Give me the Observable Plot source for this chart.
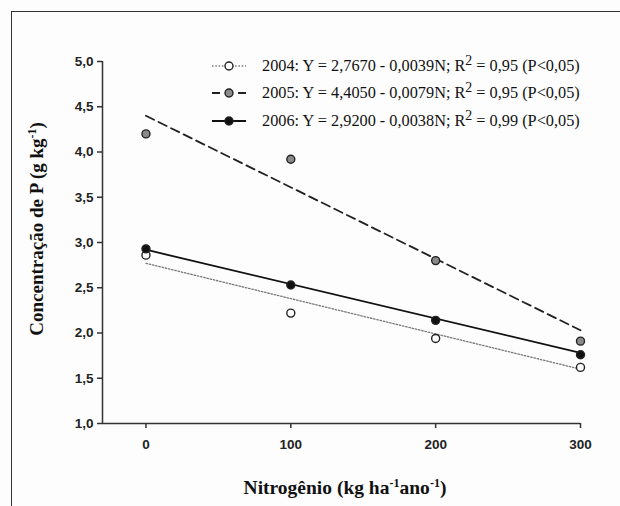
<!DOCTYPE html>
<html>
<head>
<meta charset="utf-8">
<script src="https://cdn.jsdelivr.net/npm/d3@7"></script>
<script src="https://cdn.jsdelivr.net/npm/@observablehq/plot@0.6"></script>
<style>
  html, body { margin: 0; padding: 0; background: #fff; }
  #wrap { position: relative; width: 620px; height: 506px; overflow: hidden; background: #fdfdfd; }
  #frame { position: absolute; left: 11px; top: 11px; width: 640px; height: 520px;
           border-left: 1.5px solid #333; border-top: 1.5px solid #333; }
  #chart { position: absolute; left: 0; top: 0; }
  .ytitle { position: absolute; left: 37px; top: 229px; transform: translate(-50%, -50%) rotate(-90deg);
            font-family: "Liberation Serif", "Times New Roman", serif; font-weight: bold; font-size: 19px; color: #111; white-space: nowrap; }
  .xtitle { position: absolute; left: 345px; top: 488px; transform: translate(-50%, -50%);
            font-family: "Liberation Serif", "Times New Roman", serif; font-weight: bold; font-size: 19.5px; color: #111; white-space: nowrap; }
  sup { font-size: 0.62em; line-height: 0; vertical-align: 0.6em; }
  #legend { position: absolute; left: 211px; top: 52px; font-family: "Liberation Serif", "Times New Roman", serif;
            font-size: 16.3px; color: #111; }
  .row { display: flex; align-items: center; height: 27.5px; }
  .row svg { margin-right: 15px; }
  .row sup { font-size: 0.85em; vertical-align: 0.45em; }
</style>
</head>
<body>
<div id="wrap">
  <div id="chart"></div>
  <div id="frame"></div>
  <div class="ytitle">Concentração de P (g kg<sup>-1</sup>)</div>
  <div class="xtitle">Nitrogênio (kg ha<sup>-1</sup>ano<sup>-1</sup>)</div>
  <div id="legend"></div>
</div>
<script>
// Data
const nitrogen = [0, 100, 200, 300];
const p2004 = [2.86, 2.22, 1.94, 1.62];
const p2005 = [4.20, 3.92, 2.80, 1.91];
const p2006 = [2.93, 2.53, 2.14, 1.76];

// Fitted regression line endpoints
const fitN = [0, 300];
const fit2004 = [2.77, 1.60];
const fit2005 = [4.40, 2.03];
const fit2006 = [2.92, 1.78];

const xTicks = [0, 100, 200, 300];
const yTicks = [1.0, 1.5, 2.0, 2.5, 3.0, 3.5, 4.0, 4.5, 5.0];
const xDomain = [-30, 300];
const yDomain = [1, 5];

const years = ["2004", "2005", "2006"];
const equations = [
  "2004: Y = 2,7670 - 0,0039N; R<sup>2</sup> = 0,95 (P&lt;0,05)",
  "2005: Y = 4,4050 - 0,0079N; R<sup>2</sup> = 0,95 (P&lt;0,05)",
  "2006: Y = 2,9200 - 0,0038N; R<sup>2</sup> = 0,99 (P&lt;0,05)"
];

const series = [
  {year: "2004", vals: p2004, fit: fit2004, fill: "#ffffff", dash: "1.5,1.8", lineColor: "#777", lw: 1.3},
  {year: "2005", vals: p2005, fit: fit2005, fill: "#8a8a8a", dash: "9,5", lineColor: "#222", lw: 1.8},
  {year: "2006", vals: p2006, fit: fit2006, fill: "#111111", dash: null, lineColor: "#111", lw: 1.8}
];

const fmt = d => d.toFixed(1).replace(".", ",");

const marks = [];
for (const s of series) {
  const fitData = fitN.map((n, i) => ({n, v: s.fit[i]}));
  marks.push(Plot.line(fitData, {x: "n", y: "v", stroke: s.lineColor, strokeWidth: s.lw,
    strokeDasharray: s.dash || undefined}));
}
for (const s of series) {
  const pts = nitrogen.map((n, i) => ({n, v: s.vals[i]}));
  marks.push(Plot.dot(pts, {x: "n", y: "v", r: 4, fill: s.fill, stroke: "#222", strokeWidth: 1.4}));
}
marks.push(Plot.ruleY([yDomain[0]], {stroke: "#333", strokeWidth: 1.5}));
marks.push(Plot.ruleX([xDomain[0]], {stroke: "#333", strokeWidth: 1.5}));
marks.push(Plot.axisY(yTicks, {tickFormat: fmt, tickSize: 5, tickPadding: 4, label: null,
  fontSize: 13.5, fontWeight: "bold", fontFamily: "Liberation Sans, Arial, sans-serif", stroke: "#333", strokeWidth: 1.5}));
marks.push(Plot.axisX(xTicks, {tickFormat: d => String(d), tickSize: 5, tickPadding: 11, label: null,
  fontSize: 13.5, fontWeight: "bold", fontFamily: "Liberation Sans, Arial, sans-serif", stroke: "#333", strokeWidth: 1.5}));

const chart = Plot.plot({
  width: 620,
  height: 506,
  marginLeft: 102,
  marginRight: 40,
  marginTop: 61,
  marginBottom: 83,
  style: {background: "transparent", color: "#222"},
  x: {domain: xDomain},
  y: {domain: yDomain},
  marks
});
document.getElementById("chart").appendChild(chart);

// Legend
const legend = document.getElementById("legend");
series.forEach((s, i) => {
  const row = document.createElement("div");
  row.className = "row";
  row.innerHTML =
    `<svg width="36" height="12"><line x1="1" y1="6" x2="35" y2="6" stroke="${s.lineColor}" stroke-width="${s.lw}" ${s.dash ? `stroke-dasharray="${s.year === "2005" ? "8,5" : s.dash}"` : ""}/>` +
    `<circle cx="18" cy="6" r="4" fill="${s.fill}" stroke="#222" stroke-width="1.4"/></svg>` +
    `<span>${equations[i]}</span>`;
  legend.appendChild(row);
});
</script>
</body>
</html>
